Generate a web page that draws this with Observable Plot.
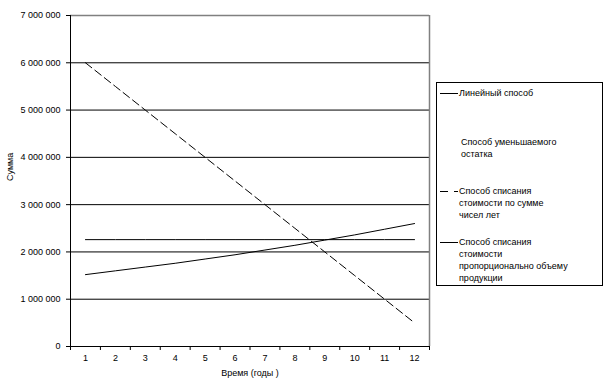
<!DOCTYPE html>
<html>
<head>
<meta charset="utf-8">
<script src="https://cdn.jsdelivr.net/npm/d3@7"></script>
<script src="https://cdn.jsdelivr.net/npm/@observablehq/plot@0.6"></script>
<style>
  body { margin: 0; background: #fff; }
  #wrap { position: relative; width: 613px; height: 386px; font-family: "Liberation Sans", Arial, sans-serif; }
  #legend { position: absolute; left: 436px; top: 82px; width: 167px; height: 204px; border: 1px solid #000; box-sizing: border-box; font-size: 9px; color: #000; }
  .item { position: absolute; left: 22px; line-height: 12px; white-space: nowrap; }
  .sample { position: absolute; left: 3px; width: 18px; height: 2px; }
</style>
</head>
<body>
<div id="wrap"></div>
<script>
const years = [1, 2, 3, 4, 5, 6, 7, 8, 9, 10, 11, 12];
const linear = [2260000, 2260000, 2260000, 2260000, 2260000, 2260000, 2260000, 2260000, 2260000, 2260000, 2260000, 2260000];
const sumOfYears = [6000000, 5500000, 5000000, 4500000, 4000000, 3500000, 3000000, 2500000, 2000000, 1500000, 1000000, 500000];
const production = [1520000, 1600000, 1680000, 1760000, 1850000, 1940000, 2040000, 2140000, 2250000, 2360000, 2480000, 2600000];
const yTicks = [0, 1000000, 2000000, 3000000, 4000000, 5000000, 6000000, 7000000];
const seriesNames = ["Линейный способ", "Способ уменьшаемого остатка", "Способ списания стоимости по сумме чисел лет", "Способ списания стоимости пропорционально объему продукции"];
const yLabel = "Сумма";
const xLabel = "Время (годы )";

const toRows = (vals) => years.map((y, i) => ({ year: y, value: vals[i] }));
const fmt = (v) => d3.format(",")(v).replace(/,/g, " ");
const bounds = d3.range(0.5, 13, 1);

const chart = Plot.plot({
  width: 613,
  height: 386,
  marginLeft: 70,
  marginRight: 184,
  marginTop: 15,
  marginBottom: 40,
  style: { fontFamily: "'Liberation Sans', Arial, sans-serif", fontSize: "9px", background: "#fff", color: "#000" },
  x: { type: "linear", domain: [0.5, 12.5] },
  y: { domain: [0, 7000000] },
  marks: [
    Plot.ruleY(yTicks.filter(d => d > 0 && d < 7000000), { stroke: "#000", strokeWidth: 1 }),
    Plot.ruleY([7000000], { stroke: "#808080", strokeWidth: 1.5 }),
    Plot.ruleX([12.5], { stroke: "#808080", strokeWidth: 1.5 }),
    Plot.axisY({ ticks: yTicks, tickFormat: fmt, tickSize: 4, tickPadding: 6, label: null }),
    Plot.axisX({ ticks: bounds, tickFormat: () => "", tickSize: 4, label: null }),
    Plot.axisX({ ticks: years, tickFormat: d => String(d), tickSize: 0, tickPadding: 8, label: null }),
    Plot.ruleX([0.5], { stroke: "#000" }),
    Plot.ruleY([0], { stroke: "#000" }),
    Plot.lineY(toRows(linear), { x: "year", y: "value", stroke: "#000", strokeWidth: 1 }),
    Plot.lineY(toRows(production), { x: "year", y: "value", stroke: "#000", strokeWidth: 1 }),
    Plot.lineY(toRows(sumOfYears), { x: "year", y: "value", stroke: "#000", strokeWidth: 1, strokeDasharray: "8,4" }),
    Plot.text([yLabel], { frameAnchor: "left", dx: -60, rotate: -90, fontSize: 9 }),
    Plot.text([xLabel], { frameAnchor: "bottom", dy: 29, fontSize: 9 })
  ]
});

const wrap = document.getElementById("wrap");
wrap.appendChild(chart);

const legend = document.createElement("div");
legend.id = "legend";
const items = [
  { top: 4, lines: ["Линейный способ"], sample: "solid" },
  { top: 53, lines: ["Способ уменьшаемого", "остатка"], sample: null },
  { top: 102, lines: ["Способ списания", "стоимости по сумме", "чисел лет"], sample: "dash" },
  { top: 153, lines: ["Способ списания", "стоимости", "пропорционально объему", "продукции"], sample: "solid" }
];
items.forEach((it, i) => {
  const d = document.createElement("div");
  d.className = "item";
  d.style.top = it.top + "px";
  d.style.left = (it.sample ? 22 : 24) + "px";
  d.innerHTML = it.lines.join("<br>");
  legend.appendChild(d);
  if (it.sample) {
    const s = document.createElementNS("http://www.w3.org/2000/svg", "svg");
    s.setAttribute("width", "20");
    s.setAttribute("height", "3");
    s.style.position = "absolute";
    s.style.left = "3px";
    s.style.top = (it.top + 5) + "px";
    const l = document.createElementNS("http://www.w3.org/2000/svg", "line");
    l.setAttribute("x1", "0"); l.setAttribute("x2", "18");
    l.setAttribute("y1", "1.5"); l.setAttribute("y2", "1.5");
    l.setAttribute("stroke", "#000");
    if (it.sample === "dash") l.setAttribute("stroke-dasharray", "8,6");
    s.appendChild(l);
    legend.appendChild(s);
  }
});
wrap.appendChild(legend);
</script>
</body>
</html>
